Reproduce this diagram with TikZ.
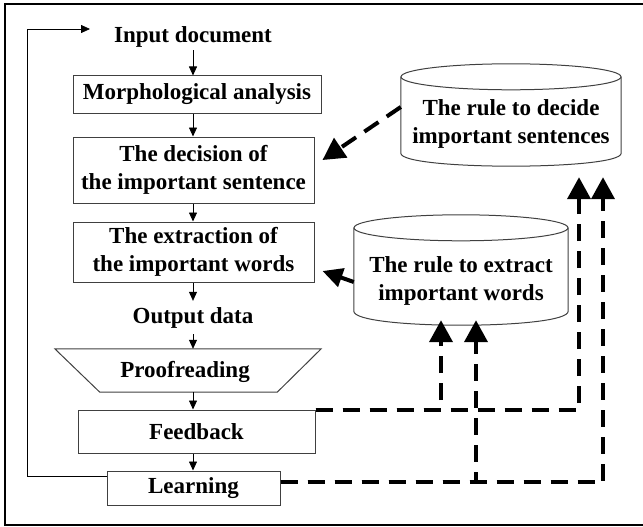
\documentclass[tikz,border=0pt]{standalone}
\usepackage{fontspec}
\setmainfont{Liberation Serif}
\usetikzlibrary{arrows.meta,calc}

\begin{document}
\begin{tikzpicture}[x=1pt,y=-1pt,
  txt/.style={font=\fontsize{23}{28}\selectfont\bfseries, align=center, inner sep=2pt},
  procbox/.style={txt, draw=black!75, line width=1pt},
  frame/.style={draw=none, inner sep=0pt},
  shapeline/.style={draw=black!75, line width=1pt},
  flow/.style={-{Triangle[length=9pt,width=8pt]}, line width=0.8pt},
  rulelink/.style={line width=4pt, dash pattern=on 17pt off 10pt},
  bighead/.style={-{Triangle[length=22pt,width=23pt]}}
]
\useasboundingbox (0,0) rectangle (643,527);
\clip (0,0) rectangle (643,527);

% outer frame (its right side lies past the page edge)
\draw[line width=2pt] (5,4) rectangle (650,525);

% main column of the process
\coordinate (col) at (193,0);
\node[txt, anchor=base] (input) at (193,43) {Input document};
\node[procbox, minimum width=248pt, minimum height=37pt] (morph) at (197,94.5) {Morphological analysis};
\node[procbox, minimum width=241pt, minimum height=66pt] (decide) at (193.5,170) {The decision of\\the important sentence};
\node[procbox, minimum width=241pt, minimum height=60pt] (extract) at (193.5,252) {The extraction of\\the important words};
\node[txt, anchor=base, inner ysep=6pt] (output) at (193,323) {Output data};

% proofreading as an inverted trapezium
\node[frame, minimum width=266pt, minimum height=43pt] (proof) at (188,370.5) {};
\draw[shapeline] (proof.north west) -- (proof.north east) -- ($(proof.south east)+(-44,0)$)
  -- ($(proof.south west)+(45,0)$) -- cycle;
\node[txt] (prooftext) at ($(proof.center)+(-3,1)$) {Proofreading};

\node[procbox, minimum width=237pt, minimum height=43pt] (feedback) at (196.5,431.5) {Feedback};
\node[procbox, minimum width=173pt, minimum height=34pt] (learning) at (193.5,488) {Learning};

% rule databases drawn as cylinders
\node[frame, minimum width=220pt, minimum height=104pt] (cylS) at (511,115) {};
\draw[shapeline] ($(cylS.north)+(0,14)$) ellipse [x radius=110pt, y radius=13pt];
\draw[shapeline] ($(cylS.north west)+(0,14)$) -- ($(cylS.south west)+(0,-14)$)
  .. controls ($(cylS.south west)+(0,3.3)$) and ($(cylS.south east)+(0,3.3)$) .. ($(cylS.south east)+(0,-14)$)
  -- ($(cylS.north east)+(0,14)$);
\node[txt] (cylStext) at ($(cylS.center)+(0,9)$) {The rule to decide\\important sentences};

\node[frame, minimum width=214pt, minimum height=110pt] (cylW) at (461,270) {};
\draw[shapeline] ($(cylW.north)+(0,13)$) ellipse [x radius=107pt, y radius=13pt];
\draw[shapeline] ($(cylW.north west)+(0,13)$) -- ($(cylW.south west)+(0,-14)$)
  .. controls ($(cylW.south west)+(0,4.7)$) and ($(cylW.south east)+(0,4.7)$) .. ($(cylW.south east)+(0,-14)$)
  -- ($(cylW.north east)+(0,13)$);
\node[txt] (cylWtext) at ($(cylW.center)+(0,11)$) {The rule to extract\\important words};

% flow arrows
\draw[flow] (input.south) -- (morph.north -| col);
\draw[flow] (morph.south -| col) -- (decide.north -| col);
\draw[flow] (decide.south -| col) -- (extract.north -| col);
\draw[flow] (extract.south -| col) -- (output.north);
\draw[flow] (output.south) -- (proof.north -| col);
\draw[flow] (proof.south -| col) -- (feedback.north -| col);
\draw[flow] (feedback.south -| col) -- (learning.north -| col);

% loop back from learning to the input
\coordinate (loopcorner) at (27,29);
\coordinate (loopend) at (90,29);
\draw[flow] ($(learning.north west)+(0,6)$) -| (loopcorner) -- (loopend);

% rules applied to the process
\draw[rulelink, bighead] ($(cylS.west)+(0,-8)$) -- ($(decide.east)+(8,-10)$);
\draw[line width=4pt, -{Triangle[length=20pt,width=19pt]}] ($(cylW.west)+(0,12)$) -- ($(extract.east)+(8,19)$);

% feedback and learning update the rules
\coordinate (tipS1) at ($(cylS.south)+(68,10)$);
\coordinate (tipS2) at ($(cylS.south)+(92,10)$);
\coordinate (tipW1) at ($(cylW.south)+(-20,-5)$);
\coordinate (tipW2) at ($(cylW.south)+(15,-5)$);
\draw[rulelink, bighead] (feedback.north east) -| (tipS1);
\draw[rulelink, bighead] (feedback.north east) -| (tipW1);
\draw[rulelink, bighead] ($(learning.east)+(0,-6)$) -| (tipS2);
\draw[rulelink, bighead] ($(learning.east)+(0,-6)$) -| (tipW2);
\end{tikzpicture}
\end{document}
